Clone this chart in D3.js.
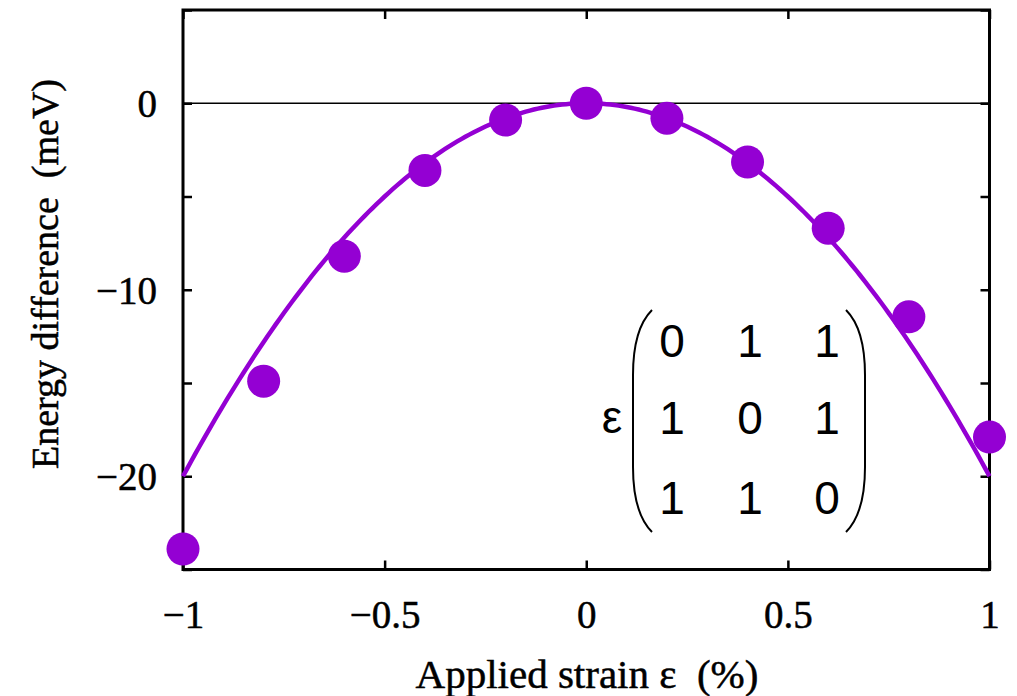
<!DOCTYPE html>
<html><head><meta charset="utf-8">
<script src="https://cdn.jsdelivr.net/npm/d3@7"></script>
<style>body{margin:0;background:#fff}</style>
</head><body>
<svg id="c" width="1017" height="696"></svg>
<script>
const strain = [-1, -0.8, -0.6, -0.4, -0.2, 0, 0.2, 0.4, 0.6, 0.8, 1];
const energy = [-23.9, -14.9, -8.2, -3.6, -0.9, 0, -0.8, -3.15, -6.7, -11.45, -17.9];
const fitCoef = [-20]; // E = a * eps^2
const xTicks = [-1, -0.5, 0, 0.5, 1];
const xTickLabels = ["\u22121", "\u22120.5", "0", "0.5", "1"];
const yTicks = [0, -10, -20];
const yTickLabels = ["0", "\u221210", "\u221220"];
const yMinorTicks = [5, -5, -15, -25];
const matrix = [["0","1","1"],["1","0","1"],["1","1","0"]];

const svg = d3.select("#c");
const L = 183, R = 989.5, T = 10, B = 569.5;
const x = d3.scaleLinear().domain([-1, 1]).range([L, R]);
const y = d3.scaleLinear().domain([-25, 5]).range([B, T]);
const col = "#9400d3";
const serif = "'Liberation Serif', 'Times New Roman', serif";
const sans = "'Liberation Sans', Arial, sans-serif";

// zero line
svg.append("line").attr("x1", x(-1)).attr("x2", x(1)).attr("y1", y(0)).attr("y2", y(0))
  .attr("stroke", "#000").attr("stroke-width", 1.5);

// axes
const tl = 9;
const gB = svg.append("g").attr("transform", `translate(0,${B})`)
  .call(d3.axisBottom(x).tickValues(xTicks).tickSize(-tl).tickFormat((d,i)=>xTickLabels[i]).tickPadding(31));
const gT = svg.append("g").attr("transform", `translate(0,${T})`)
  .call(d3.axisTop(x).tickValues(xTicks).tickSize(-tl).tickFormat(""));
const gL = svg.append("g").attr("transform", `translate(${L},0)`)
  .call(d3.axisLeft(y).tickValues(yTicks.concat(yMinorTicks)).tickSize(-tl)
    .tickFormat(d => { const i = yTicks.indexOf(d); return i >= 0 ? yTickLabels[i] : ""; }).tickPadding(26));
const gR = svg.append("g").attr("transform", `translate(${R},0)`)
  .call(d3.axisRight(y).tickValues(yTicks.concat(yMinorTicks)).tickSize(-tl).tickFormat(""));
[gB, gT, gL, gR].forEach(g => {
  g.select(".domain").remove();
  g.attr("font-family", serif).attr("font-size", 39);
  g.selectAll(".tick line").attr("stroke", "#000").attr("stroke-width", 2.5);
  g.selectAll("text").attr("font-family", serif).attr("font-size", 39).attr("fill", "#000")
    .attr("stroke", "#000").attr("stroke-width", 0.5);
});
gB.selectAll("text").attr("dy", "0.71em");
gL.selectAll("text").attr("dy", "0.34em");

// frame
svg.append("rect").attr("x", L).attr("y", T).attr("width", R - L).attr("height", B - T)
  .attr("fill", "none").attr("stroke", "#000").attr("stroke-width", 3);

// fit curve
const fitX = d3.range(-1, 1.0001, 0.01);
svg.append("path").datum(fitX)
  .attr("d", d3.line().x(d => x(d)).y(d => y(fitCoef[0] * d * d)))
  .attr("fill", "none").attr("stroke", col).attr("stroke-width", 4.5);

// points
svg.append("g").selectAll("circle").data(strain).join("circle")
  .attr("cx", d => x(d)).attr("cy", (d, i) => y(energy[i])).attr("r", 16.5).attr("fill", col);

// axis titles
svg.append("text").attr("x", 587).attr("y", 688).attr("text-anchor", "middle")
  .attr("font-family", serif).attr("font-size", 41).attr("xml:space", "preserve")
  .attr("stroke", "#000").attr("stroke-width", 0.5)
  .text("Applied strain \u03b5  (%)");
svg.append("text").attr("transform", "translate(58,274) rotate(-90)").attr("text-anchor", "middle")
  .attr("font-family", serif).attr("font-size", 38).attr("xml:space", "preserve")
  .attr("stroke", "#000").attr("stroke-width", 0.5)
  .text("Energy difference  (meV)");

// matrix annotation
const mg = svg.append("g");
const colX = [672, 750, 827], rowY = [340, 417, 497];
matrix.forEach((row, r) => row.forEach((v, c) => {
  mg.append("text").attr("x", colX[c]).attr("y", rowY[r]).attr("dy", "0.36em")
    .attr("text-anchor", "middle").attr("font-family", sans).attr("font-size", 46).text(v);
}));
mg.append("text").attr("x", 612).attr("y", 421).attr("dy", "0.27em").attr("text-anchor", "middle")
  .attr("font-family", sans).attr("font-size", 46).text("\u03b5");
mg.append("path").attr("d", "M652,310 C640,322 633,345 633,375 L633,467 C633,497 640,520 652,532")
  .attr("fill", "none").attr("stroke", "#000").attr("stroke-width", 2);
mg.append("path").attr("d", "M846,310 C858,322 865,345 865,375 L865,467 C865,497 858,520 846,532")
  .attr("fill", "none").attr("stroke", "#000").attr("stroke-width", 2);
</script>
</body></html>
